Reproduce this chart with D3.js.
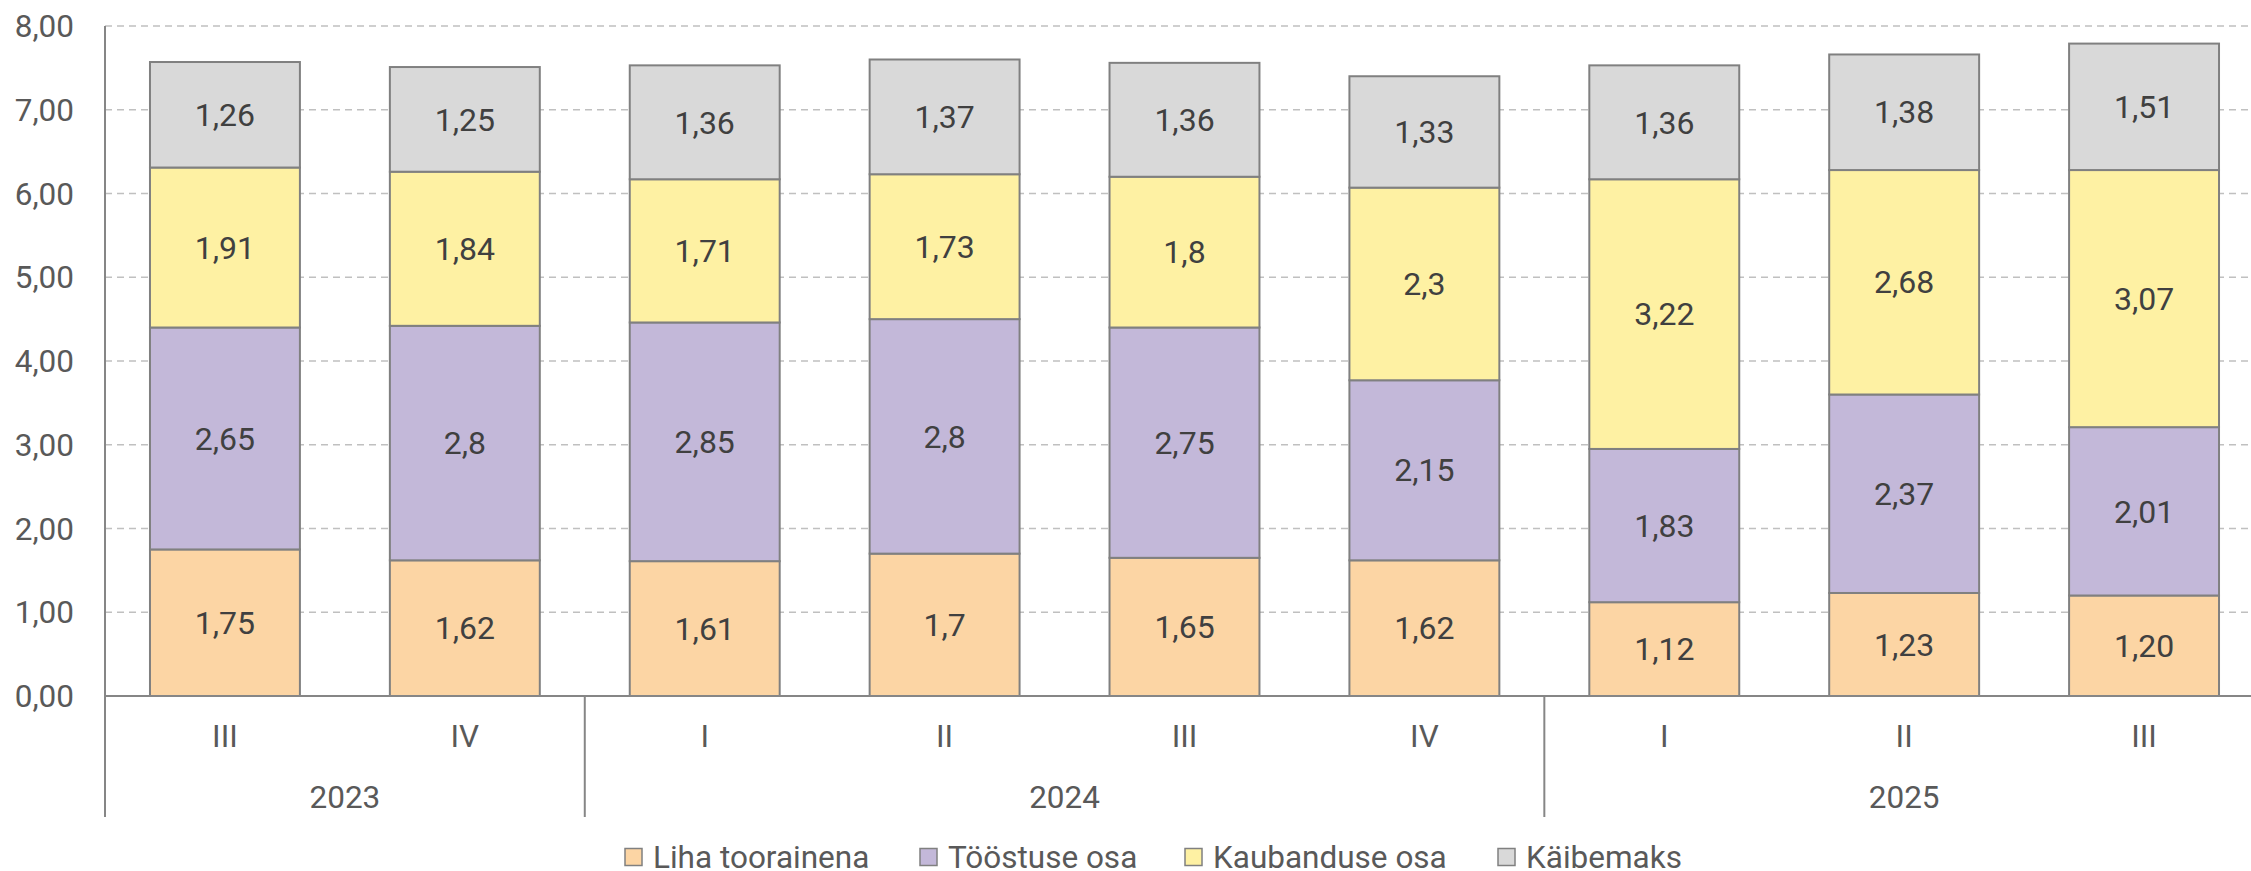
<!DOCTYPE html>
<html>
<head>
<meta charset="utf-8">
<script src="https://cdn.jsdelivr.net/npm/d3@7"></script>
<style>
  html, body { margin: 0; padding: 0; background: #fff; }
  svg { display: block; font-family: Roboto, "Noto Sans", sans-serif; }
</style>
</head>
<body>
<svg id="chart" width="2251" height="871"></svg>
<script>
// Quarters and the year each one belongs to
const quarters = ["III", "IV", "I", "II", "III", "IV", "I", "II", "III"];
const years = ["2023", "2023", "2024", "2024", "2024", "2024", "2025", "2025", "2025"];

// Series names, as shown in the legend (stacking order bottom to top)
const seriesNames = ["Liha toorainena", "Tööstuse osa", "Kaubanduse osa", "Käibemaks"];

// Component values per quarter (euro per kg), written as they are labelled
const liha = ["1,75", "1,62", "1,61", "1,7", "1,65", "1,62", "1,12", "1,23", "1,20"];
const toostus = ["2,65", "2,8", "2,85", "2,8", "2,75", "2,15", "1,83", "2,37", "2,01"];
const kaubandus = ["1,91", "1,84", "1,71", "1,73", "1,8", "2,3", "3,22", "2,68", "3,07"];
const kaibemaks = ["1,26", "1,25", "1,36", "1,37", "1,36", "1,33", "1,36", "1,38", "1,51"];

// Y-axis ticks
const yTicks = [0, 1, 2, 3, 4, 5, 6, 7, 8];
const yTickLabels = ["0,00", "1,00", "2,00", "3,00", "4,00", "5,00", "6,00", "7,00", "8,00"];

const colors = ["#FCD5A4", "#C3B8D9", "#FEF1A3", "#D9D9D9"];

const toNum = s => +s.replace(",", ".");
const seriesLabels = [liha, toostus, kaubandus, kaibemaks];

const rows = quarters.map((q, i) => {
  const r = { key: i, quarter: q, year: years[i] };
  seriesNames.forEach((n, k) => { r[n] = toNum(seriesLabels[k][i]); });
  return r;
});

const svg = d3.select("#chart");
const plotLeft = 105, plotRight = 2264, plotTop = 26, plotBottom = 696, axisEnd = 817;

const x = d3.scaleBand()
  .domain(rows.map(d => d.key))
  .range([plotLeft, plotRight])
  .paddingInner(0.375)
  .paddingOuter(0.1875);

const y = d3.scaleLinear().domain([0, 8]).range([plotBottom, plotTop]);

const axisColor = "#868686";
const textColor = "#595959";
const labelColor = "#404040";
const axisFont = 31.5;
const labelFont = 32;

// Horizontal dashed gridlines
svg.append("g")
  .selectAll("line")
  .data(yTicks.filter(t => t > 0))
  .join("line")
  .attr("x1", plotLeft).attr("x2", 2251)
  .attr("y1", d => y(d)).attr("y2", d => y(d))
  .attr("stroke", "#C0C0C0")
  .attr("stroke-width", 1.5)
  .attr("stroke-dasharray", "7,5");

// Y-axis tick labels
svg.append("g")
  .selectAll("text")
  .data(yTicks)
  .join("text")
  .attr("x", 74)
  .attr("y", d => y(d))
  .attr("dy", "0.35em")
  .attr("text-anchor", "end")
  .attr("font-size", axisFont)
  .attr("fill", textColor)
  .text((d, i) => yTickLabels[i]);

// Stacked bars
const stacked = d3.stack().keys(seriesNames)(rows);

const layers = svg.append("g")
  .selectAll("g")
  .data(stacked)
  .join("g")
  .attr("fill", (d, i) => colors[i]);

layers.selectAll("rect")
  .data(d => d)
  .join("rect")
  .attr("x", d => x(d.data.key))
  .attr("width", x.bandwidth())
  .attr("y", d => y(d[1]))
  .attr("height", d => y(d[0]) - y(d[1]))
  .attr("stroke", "#808080")
  .attr("stroke-width", 2);

// Value labels centred in each segment
layers.each(function (layer, li) {
  d3.select(this).selectAll("text")
    .data(layer)
    .join("text")
    .attr("x", d => x(d.data.key) + x.bandwidth() / 2)
    .attr("y", d => (y(d[0]) + y(d[1])) / 2)
    .attr("dy", "0.35em")
    .attr("text-anchor", "middle")
    .attr("font-size", labelFont)
    .attr("fill", labelColor)
    .text((d, i) => seriesLabels[li][i]);
});

// Category axis: baseline, group separators, quarter and year labels
const axisG = svg.append("g");
axisG.append("line")
  .attr("x1", plotLeft).attr("x2", 2251)
  .attr("y1", plotBottom).attr("y2", plotBottom)
  .attr("stroke", axisColor).attr("stroke-width", 2);

axisG.append("line")
  .attr("x1", plotLeft).attr("x2", plotLeft)
  .attr("y1", plotTop).attr("y2", axisEnd)
  .attr("stroke", axisColor).attr("stroke-width", 2);

const groups = d3.groups(rows, d => d.year);
const step = x.step();
const halfGap = (x.paddingInner() * step) / 2;
const groupBounds = groups.map(([yr, items]) => {
  const first = items[0].key, last = items[items.length - 1].key;
  return {
    yr,
    x0: x(first) - halfGap,
    x1: x(last) + x.bandwidth() + halfGap
  };
});

axisG.selectAll("line.sep")
  .data(groupBounds.slice(1))
  .join("line")
  .attr("class", "sep")
  .attr("x1", d => d.x0).attr("x2", d => d.x0)
  .attr("y1", plotBottom).attr("y2", axisEnd)
  .attr("stroke", axisColor).attr("stroke-width", 2);

axisG.selectAll("text.q")
  .data(rows)
  .join("text")
  .attr("class", "q")
  .attr("x", d => x(d.key) + x.bandwidth() / 2)
  .attr("y", 736)
  .attr("dy", "0.35em")
  .attr("text-anchor", "middle")
  .attr("font-size", axisFont)
  .attr("fill", textColor)
  .text(d => d.quarter);

axisG.selectAll("text.yr")
  .data(groupBounds)
  .join("text")
  .attr("class", "yr")
  .attr("x", (d, i) => {
    const x0 = i === 0 ? plotLeft : d.x0;
    const x1 = i === groupBounds.length - 1 ? plotRight : d.x1;
    return (x0 + x1) / 2;
  })
  .attr("y", 797)
  .attr("dy", "0.35em")
  .attr("text-anchor", "middle")
  .attr("font-size", axisFont)
  .attr("fill", textColor)
  .text(d => d.yr);

// Legend
const legendX = [625, 920, 1185, 1498];
const legend = svg.append("g")
  .selectAll("g")
  .data(seriesNames)
  .join("g")
  .attr("transform", (d, i) => `translate(${legendX[i]},857)`);

legend.append("rect")
  .attr("x", 0).attr("y", -8.5)
  .attr("width", 17).attr("height", 17)
  .attr("fill", (d, i) => colors[i])
  .attr("stroke", "#808080")
  .attr("stroke-width", 1.5);

legend.append("text")
  .attr("x", 28)
  .attr("y", 0)
  .attr("dy", "0.35em")
  .attr("font-size", axisFont)
  .attr("fill", textColor)
  .text(d => d);
</script>
</body>
</html>
